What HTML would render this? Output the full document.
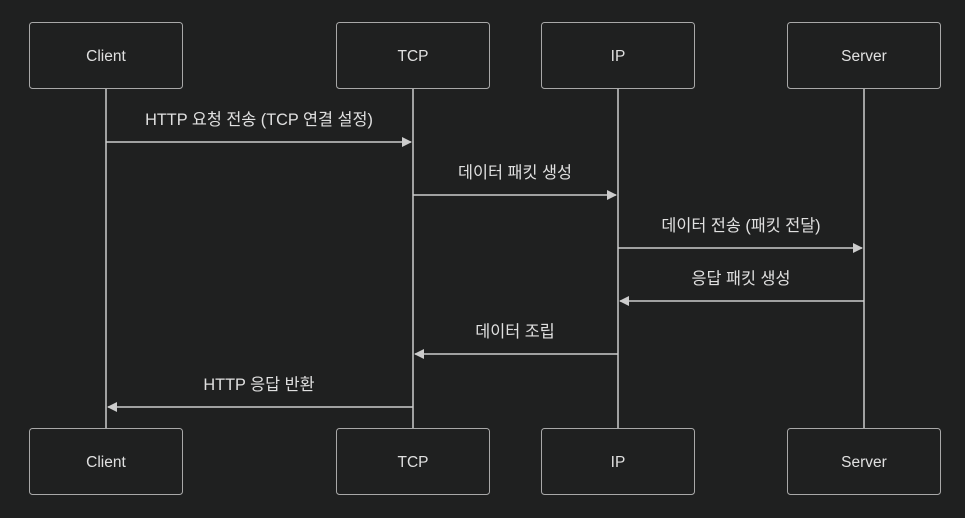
<!DOCTYPE html>
<html><head><meta charset="utf-8"><style>
html,body{margin:0;padding:0;background:#1f2020;}
svg{display:block}
text{font-family:"Liberation Sans","Noto Sans CJK KR",sans-serif;fill:#e0e0e0;}
</style></head><body>
<svg width="965" height="518" viewBox="0 0 965 518">
<rect width="965" height="518" fill="#1f2020"/>
<defs><marker id="a" markerWidth="10" markerHeight="10" refX="9" refY="5" orient="auto" markerUnits="userSpaceOnUse"><path d="M0,0 L10,5 L0,10 z" fill="#cccccc"/></marker></defs>
<g stroke="#cccccc" stroke-width="1.5">
<line x1="106" y1="88" x2="106" y2="428"/>
<line x1="413" y1="88" x2="413" y2="428"/>
<line x1="618" y1="88" x2="618" y2="428"/>
<line x1="864" y1="88" x2="864" y2="428"/>
</g>
<g fill="#1f2020" stroke="#a8a8a8" stroke-width="1">
<rect x="29.5" y="22.5" width="153" height="66" rx="3"/>
<rect x="336.5" y="22.5" width="153" height="66" rx="3"/>
<rect x="541.5" y="22.5" width="153" height="66" rx="3"/>
<rect x="787.5" y="22.5" width="153" height="66" rx="3"/>
<rect x="29.5" y="428.5" width="153" height="66" rx="3"/>
<rect x="336.5" y="428.5" width="153" height="66" rx="3"/>
<rect x="541.5" y="428.5" width="153" height="66" rx="3"/>
<rect x="787.5" y="428.5" width="153" height="66" rx="3"/>
</g>
<g font-size="15.5" text-anchor="middle">
<text x="106" y="61">Client</text><text x="413" y="61">TCP</text><text x="618" y="61">IP</text><text x="864" y="61">Server</text>
<text x="106" y="467">Client</text><text x="413" y="467">TCP</text><text x="618" y="467">IP</text><text x="864" y="467">Server</text>
</g>
<g stroke="#cccccc" stroke-width="1.5" marker-end="url(#a)">
<line x1="106" y1="142" x2="411" y2="142"/>
<line x1="413" y1="195" x2="616" y2="195"/>
<line x1="618" y1="248" x2="862" y2="248"/>
<line x1="864" y1="301" x2="620" y2="301"/>
<line x1="618" y1="354" x2="415" y2="354"/>
<line x1="413" y1="407" x2="108" y2="407"/>
</g>
<g font-size="16.3" text-anchor="middle">
<text x="259" y="125">HTTP 요청 전송 (TCP 연결 설정)</text>
<text x="515" y="178">데이터 패킷 생성</text>
<text x="741" y="231">데이터 전송 (패킷 전달)</text>
<text x="741" y="284">응답 패킷 생성</text>
<text x="515" y="337">데이터 조립</text>
<text x="259" y="390">HTTP 응답 반환</text>
</g>
</svg>
</body></html>
